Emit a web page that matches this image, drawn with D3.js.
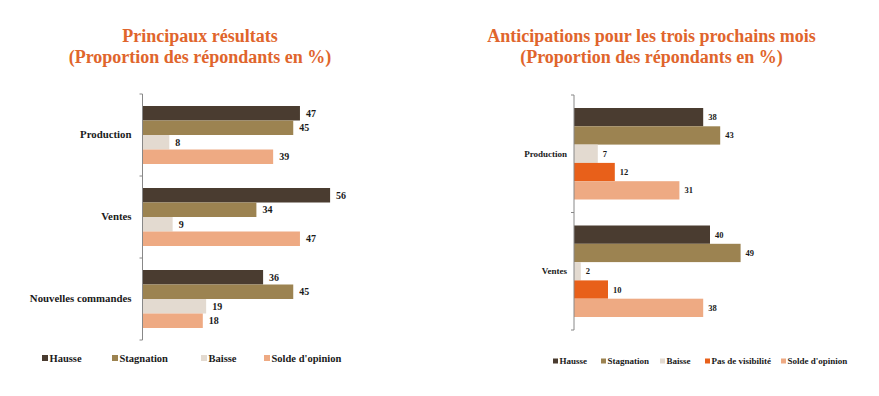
<!DOCTYPE html>
<html>
<head>
<meta charset="utf-8">
<script src="https://cdn.jsdelivr.net/npm/d3@7"></script>
<style>
  body { margin: 0; background: #fff; }
</style>
</head>
<body>
<svg id="chart" width="879" height="396"></svg>
<script>
// data
const leftCategories = ["Production", "Ventes", "Nouvelles commandes"];
const leftSeries = ["Hausse", "Stagnation", "Baisse", "Solde d'opinion"];
const leftValues = [
  [47, 45, 8, 39],
  [56, 34, 9, 47],
  [36, 45, 19, 18]
];

const rightCategories = ["Production", "Ventes"];
const rightSeries = ["Hausse", "Stagnation", "Baisse", "Pas de visibilité", "Solde d'opinion"];
const rightValues = [
  [38, 43, 7, 12, 31],
  [40, 49, 2, 10, 38]
];

const colors = {
  "Hausse": "#4a3c30",
  "Stagnation": "#9c8351",
  "Baisse": "#e3dad0",
  "Pas de visibilité": "#e8601a",
  "Solde d'opinion": "#eeaa83"
};

const FONT = "'Liberation Serif', 'DejaVu Serif', serif";
const svg = d3.select("#chart").attr("font-family", FONT);
const titleColor = "#e0652c";

function drawPanel(o) {
  const g = svg.append("g");

  // titles
  g.selectAll("text.title")
    .data(o.titles)
    .enter().append("text")
    .attr("class", "title")
    .attr("x", o.titleX)
    .attr("y", (d, i) => o.titleY + i * 21)
    .attr("text-anchor", "middle")
    .attr("fill", titleColor)
    .attr("font-family", FONT)
    .attr("font-weight", "bold")
    .attr("font-size", o.titleSize)
    .text(d => d);

  const y = d3.scaleBand()
    .domain(o.categories)
    .range([o.top, o.bottom]);

  const inner = d3.scaleBand()
    .domain(o.series)
    .range([o.innerPad, y.bandwidth() - o.innerPad]);

  const x = d3.scaleLinear()
    .domain([0, o.xMax])
    .range([o.left, o.right]);

  // bars
  const groups = g.selectAll("g.cat")
    .data(o.categories)
    .enter().append("g")
    .attr("class", "cat")
    .attr("transform", d => `translate(0,${y(d)})`);

  groups.selectAll("rect")
    .data((c, ci) => o.series.map((s, si) => ({ s, v: o.values[ci][si] })))
    .enter().append("rect")
    .attr("x", x(0))
    .attr("y", d => inner(d.s))
    .attr("width", d => x(d.v) - x(0))
    .attr("height", inner.bandwidth())
    .attr("fill", d => colors[d.s]);

  groups.selectAll("text.val")
    .data((c, ci) => o.series.map((s, si) => ({ s, v: o.values[ci][si] })))
    .enter().append("text")
    .attr("class", "val")
    .attr("x", d => x(d.v) + o.valOffset)
    .attr("y", d => inner(d.s) + inner.bandwidth() / 2)
    .attr("dy", "0.35em")
    .attr("font-family", FONT)
    .attr("font-size", o.valSize)
    .attr("font-weight", "bold")
    .attr("fill", "#1a1a1a")
    .text(d => d.v);

  // category axis
  const axis = g.append("g")
    .attr("transform", `translate(${x(0)},0)`)
    .call(d3.axisLeft(y).tickSize(0).tickPadding(o.labelPad));
  axis.attr("font-family", FONT);
  axis.select(".domain").attr("stroke", "#888").attr("d", `M-3,${o.top}H0V${o.bottom}H-3`);
  axis.selectAll(".tick text")
    .attr("font-size", o.catSize)
    .attr("font-weight", "bold")
    .attr("fill", "#1a1a1a");
  // boundary ticks between bands
  axis.selectAll("line.sep")
    .data(o.categories.slice(1))
    .enter().append("line")
    .attr("class", "sep")
    .attr("x1", -3).attr("x2", 0)
    .attr("y1", d => y(d)).attr("y2", d => y(d))
    .attr("stroke", "#888");

  // legend
  const leg = g.selectAll("g.leg")
    .data(o.series)
    .enter().append("g")
    .attr("class", "leg")
    .attr("transform", (d, i) => `translate(${o.legendX[i]},${o.legendY})`);
  leg.append("rect")
    .attr("x", 0).attr("y", -o.legSq / 2)
    .attr("width", o.legSq).attr("height", o.legSq)
    .attr("fill", d => colors[d]);
  leg.append("text")
    .attr("x", o.legSq + 1.5)
    .attr("dy", "0.35em")
    .attr("font-family", FONT)
    .attr("font-size", o.legSize)
    .attr("font-weight", "bold")
    .attr("fill", "#1a1a1a")
    .text(d => d);
}

drawPanel({
  titles: ["Principaux résultats", "(Proportion des répondants en %)"],
  titleX: 200, titleY: 42, titleSize: 18,
  categories: leftCategories, series: leftSeries, values: leftValues,
  top: 94, bottom: 340, innerPad: 12,
  left: 142.5, right: 343.5, xMax: 60,
  valOffset: 6, valSize: 10, catSize: 10.8, labelPad: 11,
  legendX: [42, 112, 201, 264], legendY: 358, legSq: 6, legSize: 10.5
});

drawPanel({
  titles: ["Anticipations pour les trois prochains mois", "(Proportion des répondants en %)"],
  titleX: 651.5, titleY: 42, titleSize: 18,
  categories: rightCategories, series: rightSeries, values: rightValues,
  top: 95, bottom: 330, innerPad: 13,
  left: 574, right: 744, xMax: 50,
  valOffset: 5, valSize: 8.5, catSize: 9, labelPad: 7,
  legendX: [553, 601, 660, 705, 781], legendY: 361, legSq: 5, legSize: 9
});
</script>
</body>
</html>
